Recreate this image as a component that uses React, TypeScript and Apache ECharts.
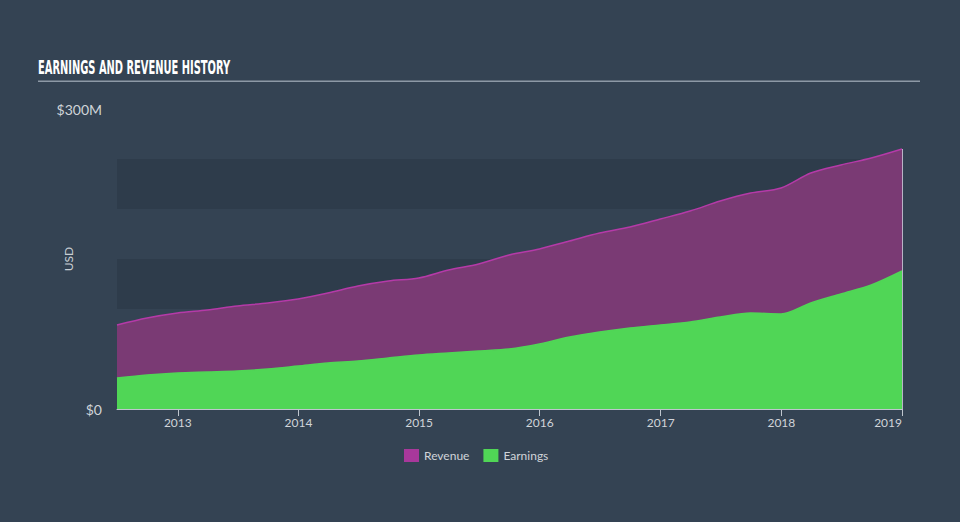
import React, { useEffect, useRef } from "react";
import * as echarts from "echarts";

const dates = [
  "2012-07-01", "2012-09-30", "2012-12-31", "2013-03-31", "2013-06-30", "2013-09-30", "2013-12-31",
  "2014-03-31", "2014-06-30", "2014-09-30", "2014-12-31", "2015-03-31", "2015-06-30", "2015-09-30",
  "2015-12-31", "2016-03-31", "2016-06-30", "2016-09-30", "2016-12-31", "2017-03-31", "2017-06-30",
  "2017-09-30", "2017-12-31", "2018-03-31", "2018-06-30", "2018-09-30", "2019-01-01",
];
const revenue = [84, 91, 96, 99, 103, 106, 110, 116, 123, 128, 131, 139, 145, 154, 160, 168, 176, 182, 190, 198, 208, 216, 221, 236, 244, 251, 260];
const earnings = [31, 34, 36, 37, 38, 40, 43, 46, 48, 51, 54, 56, 58, 60, 65, 72, 77, 81, 84, 87, 92, 96, 95, 106, 115, 124, 138];
const yTickLabels: Record<number, string> = { 0: "$0", 300: "$300M" };

const BG = "#344353";
const BAND = "#2e3c4b";

export default function App() {
  const ref = useRef<HTMLDivElement>(null);
  useEffect(() => {
    document.body.style.margin = "0";
    document.body.style.background = BG;
    const chart = echarts.init(ref.current!, null, { renderer: "svg" });
    const toPts = (arr: number[]) => dates.map((d, i) => [d, arr[i]]);
    const lastDate = dates[dates.length - 1];
    const lastRev = revenue[revenue.length - 1];
    chart.setOption({
      animation: false,
      backgroundColor: BG,
      graphic: [
        {
          type: "text",
          left: 38,
          top: 57,
          scaleX: 0.55,
          style: {
            text: "EARNINGS AND REVENUE HISTORY",
            fill: "#ffffff",
            font: "bold 20px 'DejaVu Sans Condensed'",
          },
        },
        {
          type: "rect",
          shape: { x: 38, y: 80.5, width: 882, height: 1.5 },
          style: { fill: "#8d99a6" },
        },
      ],
      grid: { left: 117, right: 58, top: 109, bottom: 113 },
      legend: {
        bottom: 55,
        left: 399,
        itemWidth: 15,
        itemHeight: 13,
        itemGap: 14,
        icon: "rect",
        textStyle: { color: "#d0d4d9", fontSize: 12, fontFamily: "Lato" },
        data: [
          { name: "Revenue", itemStyle: { color: "#a8389b" } },
          { name: "Earnings", itemStyle: { color: "#50d656" } },
        ],
      },
      xAxis: {
        type: "time",
        min: "2012-07-01",
        max: "2019-01-01",
        axisLine: { lineStyle: { color: "#bfc6ce", width: 1 } },
        axisTick: { show: true, length: 7, lineStyle: { color: "#bfc6ce" } },
        splitLine: { show: false },
        axisLabel: {
          color: "#d0d4d9",
          fontSize: 12,
          fontFamily: "Lato",
          margin: 7,
          showMaxLabel: true,
          alignMaxLabel: "right",
          formatter: (v: number) => String(new Date(v).getFullYear()),
        },
      },
      yAxis: {
        type: "value",
        min: 0,
        max: 300,
        interval: 50,
        name: "USD",
        nameLocation: "middle",
        nameGap: 43,
        nameMoveOverlap: false,
        nameTextStyle: { color: "#c9ced4", fontSize: 12, fontFamily: "Lato" },
        axisLine: { show: false },
        axisTick: { show: false },
        splitLine: { show: false },
        splitArea: {
          show: true,
          areaStyle: { color: [BAND, BG, BAND, BG, BAND, BG] },
        },
        axisLabel: {
          color: "#d0d4d9",
          fontSize: 14,
          fontFamily: "Lato",
          margin: 15,
          formatter: (v: number) => yTickLabels[v] ?? "",
        },
      },
      series: [
        {
          name: "Revenue",
          type: "line",
          data: toPts(revenue),
          smooth: 0.3,
          symbol: "none",
          lineStyle: { color: "#b53aa8", width: 1.5 },
          itemStyle: { color: "#a8389b" },
          areaStyle: { color: "#7a3a74", opacity: 1 },
          z: 2,
          markLine: {
            silent: true,
            symbol: "none",
            label: { show: false },
            lineStyle: { color: "#b9b3c6", width: 1, type: "solid" },
            data: [[{ coord: [lastDate, 0] }, { coord: [lastDate, lastRev] }]],
          },
        },
        {
          name: "Earnings",
          type: "line",
          data: toPts(earnings),
          smooth: 0.3,
          symbol: "none",
          lineStyle: { color: "#50d656", width: 1.5 },
          itemStyle: { color: "#50d656" },
          areaStyle: { color: "#50d656", opacity: 1 },
          z: 3,
        },
      ],
    });
    return () => chart.dispose();
  }, []);
  return <div ref={ref} style={{ width: 960, height: 522, background: BG }} />;
}
